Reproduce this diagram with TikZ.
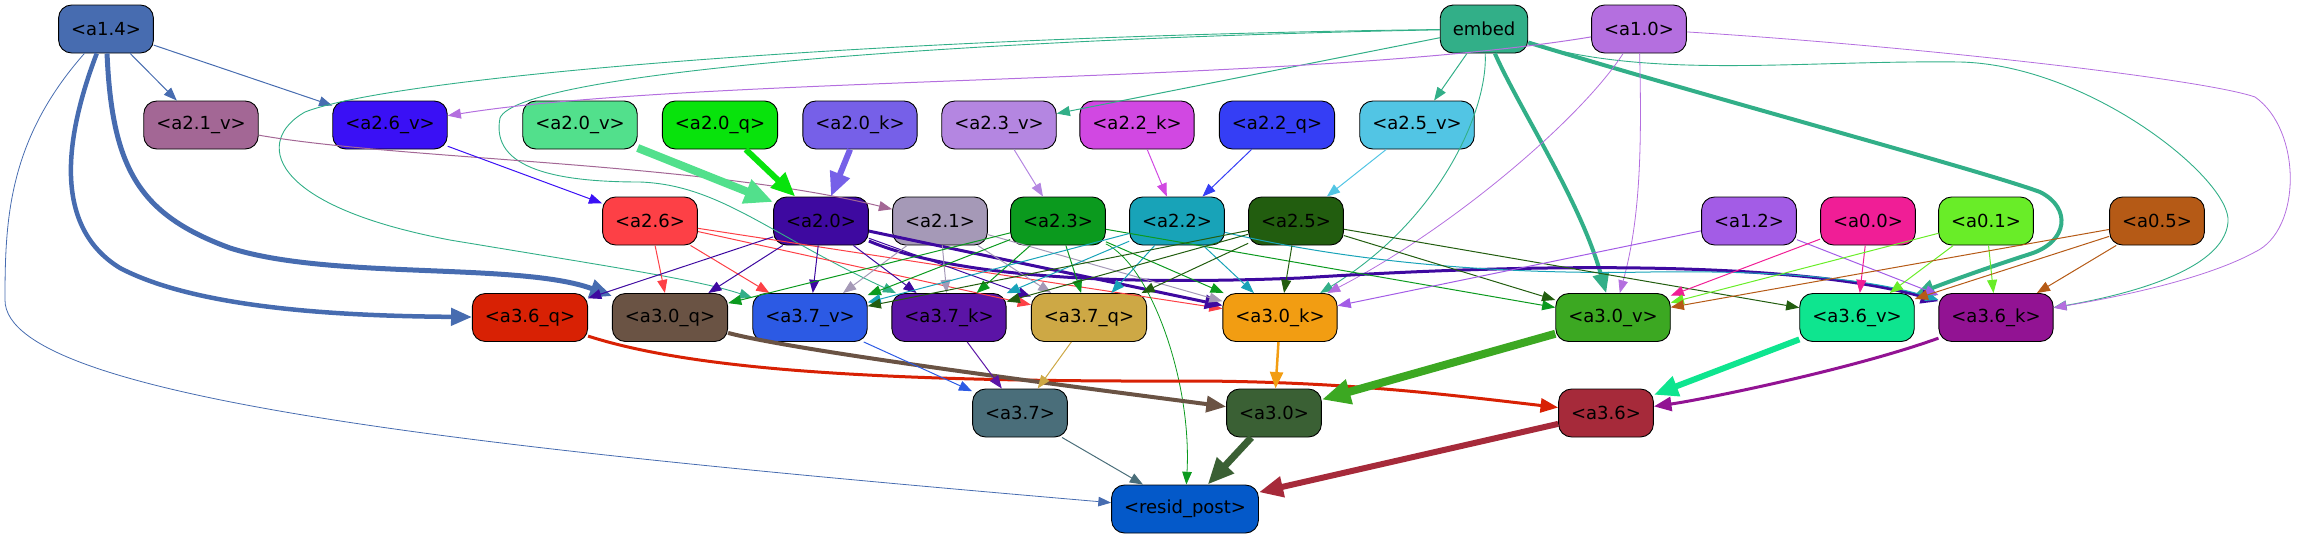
\documentclass[tikz,border=0pt]{standalone}
\usepackage{fontspec}
\setmainfont{DejaVu Sans}
\usetikzlibrary{arrows.meta}
\definecolor{c14}{HTML}{476CB0}
\definecolor{cemb}{HTML}{32AF88}
\definecolor{c10}{HTML}{B46FDF}
\definecolor{c21v}{HTML}{A36795}
\definecolor{c26v}{HTML}{3A10F5}
\definecolor{c20v}{HTML}{52E08C}
\definecolor{c20q}{HTML}{08E30C}
\definecolor{c20k}{HTML}{7660E8}
\definecolor{c23v}{HTML}{B486E1}
\definecolor{c22k}{HTML}{D148E2}
\definecolor{c22q}{HTML}{353EF5}
\definecolor{c25v}{HTML}{52C5E4}
\definecolor{c26}{HTML}{FD4046}
\definecolor{c20}{HTML}{3E09A0}
\definecolor{c21}{HTML}{A599B7}
\definecolor{c23}{HTML}{0B9A1E}
\definecolor{c22}{HTML}{18A3B8}
\definecolor{c25}{HTML}{225D0F}
\definecolor{c12}{HTML}{A35CE6}
\definecolor{c00}{HTML}{F01E96}
\definecolor{c01}{HTML}{69ED28}
\definecolor{c05}{HTML}{B55A16}
\definecolor{c36q}{HTML}{D82104}
\definecolor{c30q}{HTML}{6A5344}
\definecolor{c37v}{HTML}{2C5AE4}
\definecolor{c37k}{HTML}{5B14A6}
\definecolor{c37q}{HTML}{CDA845}
\definecolor{c30k}{HTML}{F29D12}
\definecolor{c30v}{HTML}{3CA822}
\definecolor{c36v}{HTML}{0EE58F}
\definecolor{c36k}{HTML}{921393}
\definecolor{c37}{HTML}{4A6E7A}
\definecolor{c30}{HTML}{3A6034}
\definecolor{c36}{HTML}{A62A3A}
\definecolor{crp}{HTML}{0459C9}
\tikzset{
  nd/.style={draw=black, line width=0.9pt, rounded corners=13pt, minimum height=48pt,
    inner xsep=12.5pt, inner ysep=0pt, font=\fontsize{18}{20}\selectfont, text=black},
  edg/.style={-{Triangle[length=11pt 2.2,width=8pt 2]}, line width=#1},
  edg/.default=1pt
}
\begin{document}
\begin{tikzpicture}[x=1pt,y=-1pt]
\useasboundingbox (0,0) rectangle (2298,539);
% row 1
\node[nd,fill=c14] (a14) at (106,29) {<a1.4>};
\node[nd,fill=cemb] (emb) at (1484,29) {embed};
\node[nd,fill=c10] (a10) at (1639,29) {<a1.0>};
% row 2
\node[nd,fill=c21v] (a21v) at (201,125) {<a2.1\_v>};
\node[nd,fill=c26v] (a26v) at (390,125) {<a2.6\_v>};
\node[nd,fill=c20v] (a20v) at (580,125) {<a2.0\_v>};
\node[nd,fill=c20q] (a20q) at (720,125) {<a2.0\_q>};
\node[nd,fill=c20k] (a20k) at (860,125) {<a2.0\_k>};
\node[nd,fill=c23v] (a23v) at (999,125) {<a2.3\_v>};
\node[nd,fill=c22k] (a22k) at (1137,125) {<a2.2\_k>};
\node[nd,fill=c22q] (a22q) at (1277,125) {<a2.2\_q>};
\node[nd,fill=c25v] (a25v) at (1417,125) {<a2.5\_v>};
% row 3
\node[nd,fill=c26] (a26) at (650,221) {<a2.6>};
\node[nd,fill=c20] (a20) at (821,221) {<a2.0>};
\node[nd,fill=c21] (a21) at (940,221) {<a2.1>};
\node[nd,fill=c23] (a23) at (1058,221) {<a2.3>};
\node[nd,fill=c22] (a22) at (1177,221) {<a2.2>};
\node[nd,fill=c25] (a25) at (1296,221) {<a2.5>};
\node[nd,fill=c12] (a12) at (1749,221) {<a1.2>};
\node[nd,fill=c00] (a00) at (1868,221) {<a0.0>};
\node[nd,fill=c01] (a01) at (1986,221) {<a0.1>};
\node[nd,fill=c05] (a05) at (2157,221) {<a0.5>};
% row 4
\node[nd,fill=c36q] (a36q) at (530,317.5) {<a3.6\_q>};
\node[nd,fill=c30q] (a30q) at (670,317.5) {<a3.0\_q>};
\node[nd,fill=c37v] (a37v) at (810,317.5) {<a3.7\_v>};
\node[nd,fill=c37k] (a37k) at (949,317.5) {<a3.7\_k>};
\node[nd,fill=c37q] (a37q) at (1089,317.5) {<a3.7\_q>};
\node[nd,fill=c30k] (a30k) at (1280,317.5) {<a3.0\_k>};
\node[nd,fill=c30v] (a30v) at (1613,317.5) {<a3.0\_v>};
\node[nd,fill=c36v] (a36v) at (1857,317.5) {<a3.6\_v>};
\node[nd,fill=c36k] (a36k) at (1996,317.5) {<a3.6\_k>};
% row 5
\node[nd,fill=c37] (a37) at (1020,413) {<a3.7>};
\node[nd,fill=c30] (a30) at (1274,413) {<a3.0>};
\node[nd,fill=c36] (a36) at (1606,413) {<a3.6>};
% row 6
\node[nd,fill=crp] (rp) at (1185,509) {<resid\_post>};

% ---- edges from a1.4
\draw[edg=0.8pt,c14] (a14) .. controls (8,140) and (5,220) .. (5,300) .. controls (5,400) and (500,450) .. (rp);
\draw[edg,c14] (a14) -- (a21v);
\draw[edg,c14] (a14) -- (a26v);
\draw[edg=4.5pt,c14] (a14) .. controls (60,150) and (58,230) .. (120,268) .. controls (200,310) and (350,316) .. (a36q);
\draw[edg=5pt,c14] (a14) .. controls (112,170) and (140,215) .. (230,248) .. controls (330,280) and (520,262) .. (a30q);
% ---- edges from embed
\draw[edg,cemb] (emb) -- (a23v);
\draw[edg,cemb] (emb) -- (a25v);
\draw[edg=4pt,cemb] (emb) .. controls (1520,110) and (1580,200) .. (a30v);
\draw[edg=4pt,cemb] (emb) .. controls (1700,95) and (1980,170) .. (2040,192) .. controls (2072,208) and (2068,242) .. (2030,254) .. controls (1980,270) and (1940,285) .. (a36v);
\draw[edg=0.9pt,cemb] (emb) .. controls (1488,110) and (1440,220) .. (a30k);
\draw[edg=0.9pt,cemb] (emb) .. controls (1650,80) and (1800,60) .. (1960,62) .. controls (2090,65) and (2232,180) .. (2228,222) .. controls (2224,272) and (2120,296) .. (a36k);
\draw[edg=0.9pt,cemb] (emb) .. controls (900,36) and (400,75) .. (305,112) .. controls (255,140) and (265,205) .. (450,240) .. controls (600,265) and (700,280) .. (a37v);
\draw[edg=0.9pt,cemb] (emb) .. controls (1000,38) and (520,70) .. (500,118) .. controls (490,170) and (560,182) .. (640,182) .. controls (720,185) and (770,235) .. (a37k);
% ---- edges from a1.0
\draw[edg,c10] (a10) .. controls (1300,85) and (700,75) .. (a26v);
\draw[edg=0.8pt,c10] (a10) .. controls (1580,120) and (1450,230) .. (a30k);
\draw[edg=0.8pt,c10] (a10) .. controls (1642,150) and (1640,220) .. (a30v);
\draw[edg=0.8pt,c10] (a10) .. controls (1900,45) and (2200,78) .. (2255,97) .. controls (2302,130) and (2302,230) .. (2255,252) .. controls (2200,282) and (2100,300) .. (a36k);
% ---- row 2 -> row 3
\draw[edg,c21v] (a21v) .. controls (400,160) and (700,162) .. (a21);
\draw[edg,c26v] (a26v) -- (a26);
\draw[edg=8pt,c20v] (a20v) -- (a20);
\draw[edg=6pt,c20q] (a20q) -- (a20);
\draw[edg=6pt,c20k] (a20k) -- (a20);
\draw[edg,c23v] (a23v) -- (a23);
\draw[edg,c22k] (a22k) -- (a22);
\draw[edg,c22q] (a22q) -- (a22);
\draw[edg,c25v] (a25v) -- (a25);
% ---- a2.6
\draw[edg,c26] (a26) -- (a30q);
\draw[edg,c26] (a26) -- (a37v);
\draw[edg,c26] (a26) -- (a37q);
\draw[edg,c26] (a26) -- (a30k);
% ---- a2.0
\draw[edg,c20] (a20) -- (a36q);
\draw[edg,c20] (a20) -- (a30q);
\draw[edg,c20] (a20) -- (a37v);
\draw[edg,c20] (a20) -- (a37k);
\draw[edg,c20] (a20) -- (a37q);
\draw[edg=3pt,c20] (a20) -- (a30k);
\draw[edg=3pt,c20] (a20) .. controls (950,275) and (1100,286) .. (1300,278) .. controls (1550,262) and (1800,262) .. (a36k);
% ---- a2.1
\draw[edg,c21] (a21) -- (a37v);
\draw[edg,c21] (a21) -- (a37k);
\draw[edg,c21] (a21) -- (a37q);
\draw[edg,c21] (a21) -- (a30k);
% ---- a2.3
\draw[edg,c23] (a23) -- (a30q);
\draw[edg,c23] (a23) -- (a37v);
\draw[edg,c23] (a23) -- (a37k);
\draw[edg,c23] (a23) -- (a37q);
\draw[edg,c23] (a23) -- (a30k);
\draw[edg,c23] (a23) -- (a30v);
\draw[edg=0.8pt,c23] (a23) .. controls (1150,265) and (1192,380) .. (rp);
% ---- a2.2
\draw[edg,c22] (a22) -- (a37v);
\draw[edg,c22] (a22) -- (a37k);
\draw[edg,c22] (a22) -- (a37q);
\draw[edg,c22] (a22) -- (a30k);
\draw[edg,c22] (a22) .. controls (1350,262) and (1500,275) .. (1650,272) .. controls (1800,270) and (1880,282) .. (a36k);
% ---- a2.5
\draw[edg,c25] (a25) -- (a37v);
\draw[edg,c25] (a25) -- (a37k);
\draw[edg,c25] (a25) -- (a37q);
\draw[edg,c25] (a25) -- (a30k);
\draw[edg,c25] (a25) -- (a30v);
\draw[edg,c25] (a25) -- (a36v);
% ---- a1.2, a0.x
\draw[edg,c12] (a12) -- (a30k);
\draw[edg,c12] (a12) -- (a36k);
\draw[edg,c00] (a00) -- (a30v);
\draw[edg,c00] (a00) -- (a36v);
\draw[edg,c01] (a01) -- (a30v);
\draw[edg,c01] (a01) -- (a36v);
\draw[edg,c01] (a01) -- (a36k);
\draw[edg,c05] (a05) -- (a30v);
\draw[edg,c05] (a05) -- (a36v);
\draw[edg,c05] (a05) -- (a36k);
% ---- row 4 -> row 5
\draw[edg=3pt,c36q] (a36q) .. controls (700,372) and (900,382) .. (1200,381) .. controls (1350,382) and (1450,395) .. (a36);
\draw[edg=4pt,c30q] (a30q) .. controls (800,352) and (1100,390) .. (a30);
\draw[edg,c37v] (a37v) -- (a37);
\draw[edg,c37k] (a37k) -- (a37);
\draw[edg,c37q] (a37q) -- (a37);
\draw[edg=2.5pt,c30k] (a30k) -- (a30);
\draw[edg=8pt,c30v] (a30v) -- (a30);
\draw[edg=6pt,c36v] (a36v) -- (a36);
\draw[edg=3pt,c36k] (a36k) .. controls (1850,370) and (1700,400) .. (a36);
% ---- to resid_post
\draw[edg,c37] (a37) -- (rp);
\draw[edg=7pt,c30] (a30) -- (rp);
\draw[edg=6pt,c36] (a36) -- (rp);
\end{tikzpicture}
\end{document}
